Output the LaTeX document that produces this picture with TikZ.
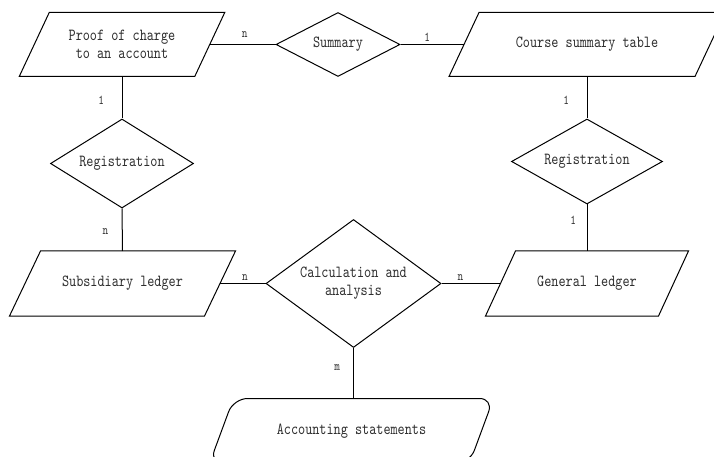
\documentclass[tikz,border=0pt]{standalone}
\usepackage{fontspec}
\newfontfamily\diagfont[FakeStretch=0.8]{lmmono10-regular.otf}
\usetikzlibrary{shapes.geometric}
\tikzset{
  box/.style={rectangle, inner sep=0pt, minimum height=63bp, text=black!82, align=center,
    font=\diagfont\fontsize{17}{18}\selectfont},
  rel/.style={diamond, draw, inner sep=0pt, text=black!82, align=center,
    font=\diagfont\fontsize{17}{18}\selectfont},
  lab/.style={inner sep=0pt, text=black!82, font=\diagfont\fontsize{13.5}{14}\selectfont},
  conn/.style={draw=black, line width=1bp}
}
\begin{document}
\begin{tikzpicture}[x=1bp, y=-1bp, line width=1bp]
\useasboundingbox (0,0) rectangle (714,457);
\clip (0,0) rectangle (714,457);

% entities (parallelograms)
\node[box, minimum width=174.5bp] (proof) at (122,44.5) {Proof of charge\\to an account};
\node[box, minimum width=245bp] (course) at (587,44.5) {Course summary table};
\node[box, minimum width=194bp, minimum height=64bp] (sub) at (122.5,283.5) {Subsidiary ledger};
\node[box, minimum width=172bp, minimum height=64bp] (gen) at (587,283.5) {General ledger};
\node[box, minimum width=259bp, minimum height=64bp] (acc) at (351.5,431) {Accounting statements};

\foreach \n/\s in {proof/15, course/15, sub/15.5, gen/15}
  \draw ([xshift=\s bp]\n.north west) -- ([xshift=\s bp]\n.north east)
     -- ([xshift=-\s bp]\n.south east) -- ([xshift=-\s bp]\n.south west) -- cycle;

\draw[rounded corners=14bp] ([xshift=12bp]acc.north) -- ([xshift=12bp]acc.north east)
   -- ([xshift=-12bp]acc.south east) -- ([xshift=-12bp]acc.south west)
   -- ([xshift=12bp]acc.north west) -- cycle;

% relationships (diamonds)
\node[rel, minimum width=124bp, minimum height=64bp, shape aspect=1.94] (sum) at (338,44.5) {Summary};
\node[rel, minimum width=143bp, minimum height=89bp, shape aspect=1.6] (reg1) at (122,163.5) {Registration};
\node[rel, minimum width=151bp, minimum height=85bp, shape aspect=1.78] (reg2) at (587,161.5) {Registration};
\node[rel, minimum width=175bp, minimum height=128bp, shape aspect=1.37] (calc) at (353.5,283.5) {Calculation and\\analysis};

% connectors
\draw[conn] (proof.east) -- node[lab, pos=0.53, above=6bp] {n} (sum.west);
\draw[conn] (sum.east) -- node[lab, pos=0.42, above=2.5bp] {1} (course.west);
\draw[conn] (proof.south) -- node[lab, pos=0.56, left=17.5bp] {1} (reg1.north);
\draw[conn] (reg1.south) -- node[lab, pos=0.55, left=13.4bp] {n} (sub.north);
\draw[conn] (course.south) -- node[lab, pos=0.56, left=17.4bp] {1} (reg2.north);
\draw[conn] (reg2.south) -- node[lab, pos=0.33, left=10.4bp] {1} (gen.north);
\draw[conn] (sub.east) -- node[lab, pos=0.55, above=2.6bp] {n} (calc.west);
\draw[conn] (calc.east) -- node[lab, pos=0.32, above=2.6bp] {n} (gen.west);
\draw[conn] (calc.south) -- node[lab, pos=0.38, left=12.9bp] {m} (calc.south |- acc.north);
\end{tikzpicture}
\end{document}
